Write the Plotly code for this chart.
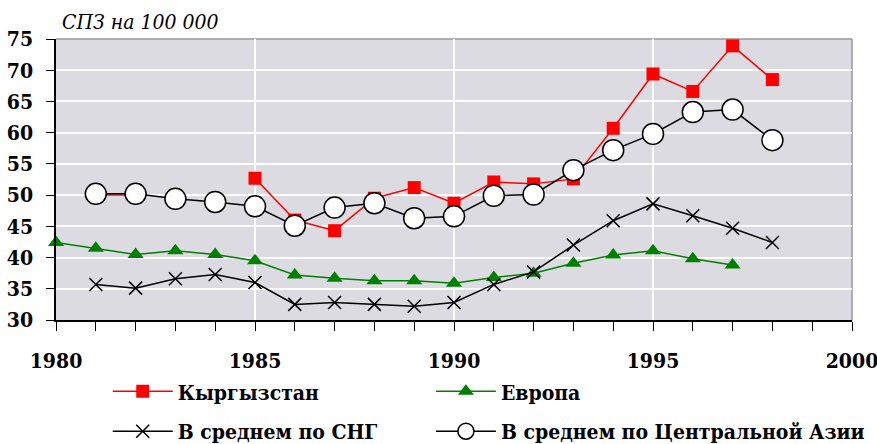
import plotly.graph_objects as go

years = list(range(1980, 1999))
kyrgyzstan = [None, 50.0, 50.0, None, None, 52.7, 46.0, 44.3, 49.5, 51.2, 48.7, 52.1, 51.8, 52.6, 60.7, 69.4, 66.6, 73.9, 68.5]
europe = [42.4, 41.5, 40.5, 41.1, 40.5, 39.5, 37.2, 36.7, 36.3, 36.3, 35.9, 36.8, 37.5, 39.1, 40.4, 41.1, 39.8, 38.8, None]
cis_avg = [None, 35.7, 35.1, 36.6, 37.3, 36.0, 32.5, 32.8, 32.5, 32.2, 32.8, 35.7, 37.7, 42.0, 45.9, 48.6, 46.7, 44.7, 42.4]
central_asia = [None, 50.2, 50.2, 49.4, 48.9, 48.2, 45.1, 48.0, 48.7, 46.3, 46.6, 49.9, 50.1, 54.0, 57.2, 59.8, 63.3, 63.7, 58.8]

names = ["Кыргызстан", "Европа", "В среднем по СНГ", "В среднем по Центральной Азии"]
y_title = "СПЗ на 100 000"

FONT = "DejaVu Serif Condensed, DejaVu Serif"

fig = go.Figure()
fig.add_trace(go.Scatter(
    x=years, y=kyrgyzstan, name=names[0], mode="lines+markers",
    line=dict(color="#FF0000", width=1.5),
    marker=dict(symbol="square", size=13, color="#FF0000"),
    cliponaxis=False, legend="legend"))
fig.add_trace(go.Scatter(
    x=years, y=europe, name=names[1], mode="lines+markers",
    line=dict(color="#008000", width=1.5),
    marker=dict(symbol="triangle-up", size=14, color="#008000"),
    cliponaxis=False, legend="legend2"))
fig.add_trace(go.Scatter(
    x=years, y=cis_avg, name=names[2], mode="lines+markers",
    line=dict(color="#000000", width=1.5),
    marker=dict(symbol="x-thin", size=13, color="#000000",
                line=dict(color="#000000", width=1.5)),
    cliponaxis=False, legend="legend3"))
fig.add_trace(go.Scatter(
    x=years, y=central_asia, name=names[3], mode="lines+markers",
    line=dict(color="#000000", width=1.5),
    marker=dict(symbol="circle", size=21, color="#FFFFFF",
                line=dict(color="#000000", width=1.5)),
    cliponaxis=False, legend="legend4"))

legend_font = dict(family=FONT, size=21, color="black", weight="bold")


def leg(x, y):
    return dict(orientation="h", x=x, xanchor="left", y=y, yanchor="middle",
                itemwidth=60,
                font=legend_font, bgcolor="rgba(0,0,0,0)")


fig.update_layout(
    width=877, height=444,
    margin=dict(l=56, r=25, t=39, b=124, autoexpand=False),
    paper_bgcolor="white",
    plot_bgcolor="#DCDBE1",
    font=dict(family=FONT, size=21, color="black"),
    showlegend=True,
    legend=leg(0.065, -0.255),
    legend2=leg(0.471, -0.255),
    legend3=leg(0.065, -0.397),
    legend4=leg(0.471, -0.397),
    xaxis=dict(range=[1980, 2000], dtick=5, tick0=1980, automargin=False,
               showgrid=True, gridcolor="white", gridwidth=1.5,
               showline=True, linecolor="black", linewidth=1.5,
               ticks="outside", ticklen=9, tickcolor="black", tickwidth=1,
               minor=dict(dtick=1, ticks="outside", ticklen=9, tickcolor="black", showgrid=False),
               tickfont=dict(family=FONT, size=21, color="black", weight="bold"),
               ticklabelstandoff=12, ticklabeloverflow="allow", zeroline=False),
    yaxis=dict(range=[30, 75], dtick=5, tick0=30, automargin=False,
               showgrid=True, gridcolor="white", gridwidth=1.5,
               showline=True, linecolor="black", linewidth=1.5,
               ticks="outside", ticklen=8, tickcolor="black", tickwidth=1,
               tickfont=dict(family=FONT, size=21, color="black", weight="bold"),
               ticklabelstandoff=9, ticklabeloverflow="allow", zeroline=False),
    shapes=[
        dict(type="line", xref="paper", yref="paper", x0=0, x1=1, y0=1, y1=1,
             line=dict(color="#999999", width=1.5), layer="between"),
        dict(type="line", xref="paper", yref="paper", x0=1, x1=1, y0=0, y1=1,
             line=dict(color="#999999", width=1.5), layer="between"),
    ],
    annotations=[
        dict(text=y_title, xref="paper", yref="paper", x=0.005, y=1.06,
             xanchor="left", yanchor="middle", showarrow=False,
             font=dict(family=FONT, size=21, color="black", style="italic")),
    ],
)

fig.write_html("out.html", config={"displayModeBar": False},
               post_script="document.body.style.margin='0';")
